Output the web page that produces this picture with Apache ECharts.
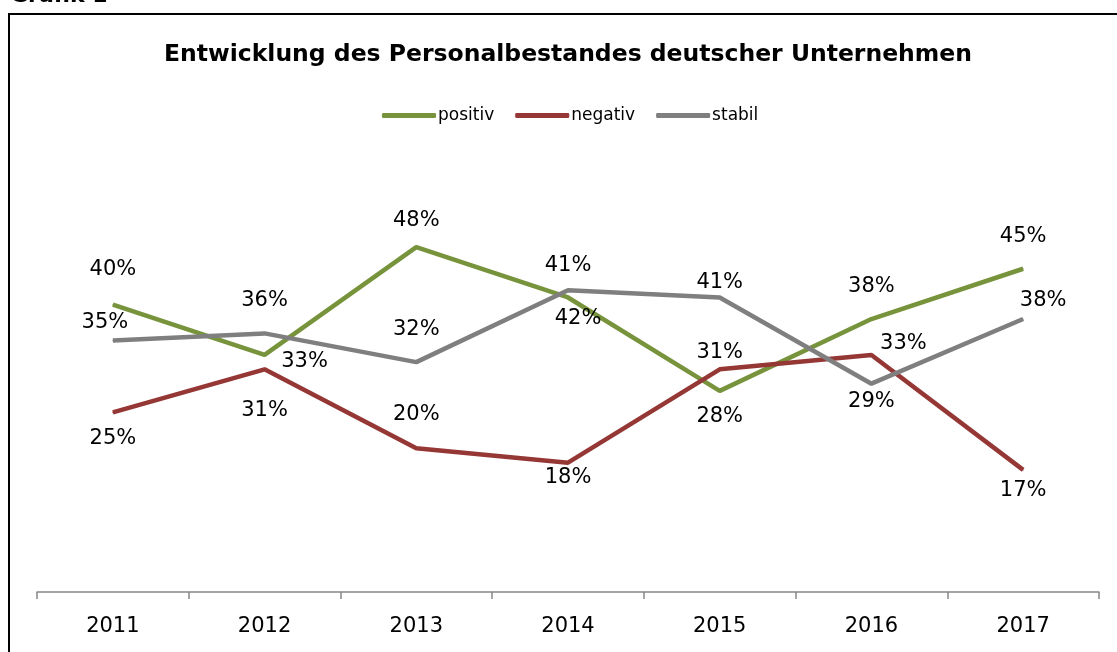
<!DOCTYPE html>
<html>
<head>
<meta charset="utf-8">
<script src="https://cdn.jsdelivr.net/npm/echarts@6/dist/echarts.min.js"></script>
<style>
  html, body { margin: 0; padding: 0; background: #fff; }
  #chart { width: 1117px; height: 652px; }
</style>
</head>
<body>
<div id="chart"></div>
<script>
const years = ['2011', '2012', '2013', '2014', '2015', '2016', '2017']
const positiv = [40, 33, 48, 41, 28, 38, 45]
const negativ = [25, 31, 20, 18, 31, 33, 17]
const stabil = [35, 36, 32, 42, 41, 29, 38]

// label offsets (dx, dy) from the point, per series
const posOffsets = [[0, -35], [40, 7], [0, -27], [0, -32], [0, 26], [0, -32], [0, -32]]
const negOffsets = [[0, 26], [0, 41], [0, -34], [0, 15], [0, -17], [32, -11], [0, 21]]
const stabOffsets = [[-8, -18], [0, -33], [0, -33], [10, 28], [0, -15], [0, 18], [20, -18]]

const font = 'DejaVu Sans'

const withLabels = (values, offsets) =>
  values.map((v, i) => ({ value: v, label: { offset: offsets[i] } }))

const makeSeries = (name, values, offsets, color) => ({
  name,
  type: 'line',
  data: withLabels(values, offsets),
  symbol: 'circle',
  symbolSize: 1,
  showSymbol: true,
  lineStyle: { width: 4.5, color },
  itemStyle: { color },
  label: {
    show: true,
    position: 'inside',
    formatter: '{c}%',
    color: '#000',
    fontFamily: font,
    fontSize: 21
  },
  emphasis: { disabled: true },
  animation: false
})

const chart = echarts.init(document.getElementById('chart'))

chart.setOption({
  animation: false,
  graphic: [
    {
      type: 'rect',
      shape: { x: 9, y: 14, width: 1200, height: 700 },
      style: { fill: 'none', stroke: '#000', lineWidth: 2 }
    },
    {
      type: 'text',
      x: 10,
      y: -15,
      style: { text: 'Grafik 1', font: 'bold 22px "DejaVu Sans"', fill: '#000' }
    },
    {
      type: 'text',
      x: 568,
      y: 55,
      style: {
        text: 'Entwicklung des Personalbestandes deutscher Unternehmen',
        font: 'bold 23.5px "DejaVu Sans"',
        fill: '#000',
        align: 'center',
        verticalAlign: 'middle'
      }
    }
  ],
  legend: {
    top: 102,
    left: 377,
    itemWidth: 54,
    itemHeight: 5,
    itemGap: 21,
    icon: 'roundRect',
    textStyle: { fontFamily: font, fontSize: 17, color: '#000', padding: [0, 0, 0, -3] },
    data: ['positiv', 'negativ', 'stabil']
  },
  grid: { left: 37, right: 18, top: 161, bottom: 60 },
  xAxis: {
    type: 'category',
    data: years,
    boundaryGap: true,
    axisLine: { show: true, lineStyle: { color: '#868686', width: 1.5 } },
    axisTick: { show: true, length: 7, lineStyle: { color: '#868686', width: 1.5 } },
    axisLabel: { color: '#000', fontFamily: font, fontSize: 21, margin: 24 }
  },
  yAxis: {
    type: 'value',
    min: 0,
    max: 60,
    show: false,
    splitLine: { show: false }
  },
  series: [
    makeSeries('positiv', positiv, posOffsets, '#77933C'),
    makeSeries('negativ', negativ, negOffsets, '#953735'),
    makeSeries('stabil', stabil, stabOffsets, '#7F7F7F')
  ]
})
</script>
</body>
</html>
